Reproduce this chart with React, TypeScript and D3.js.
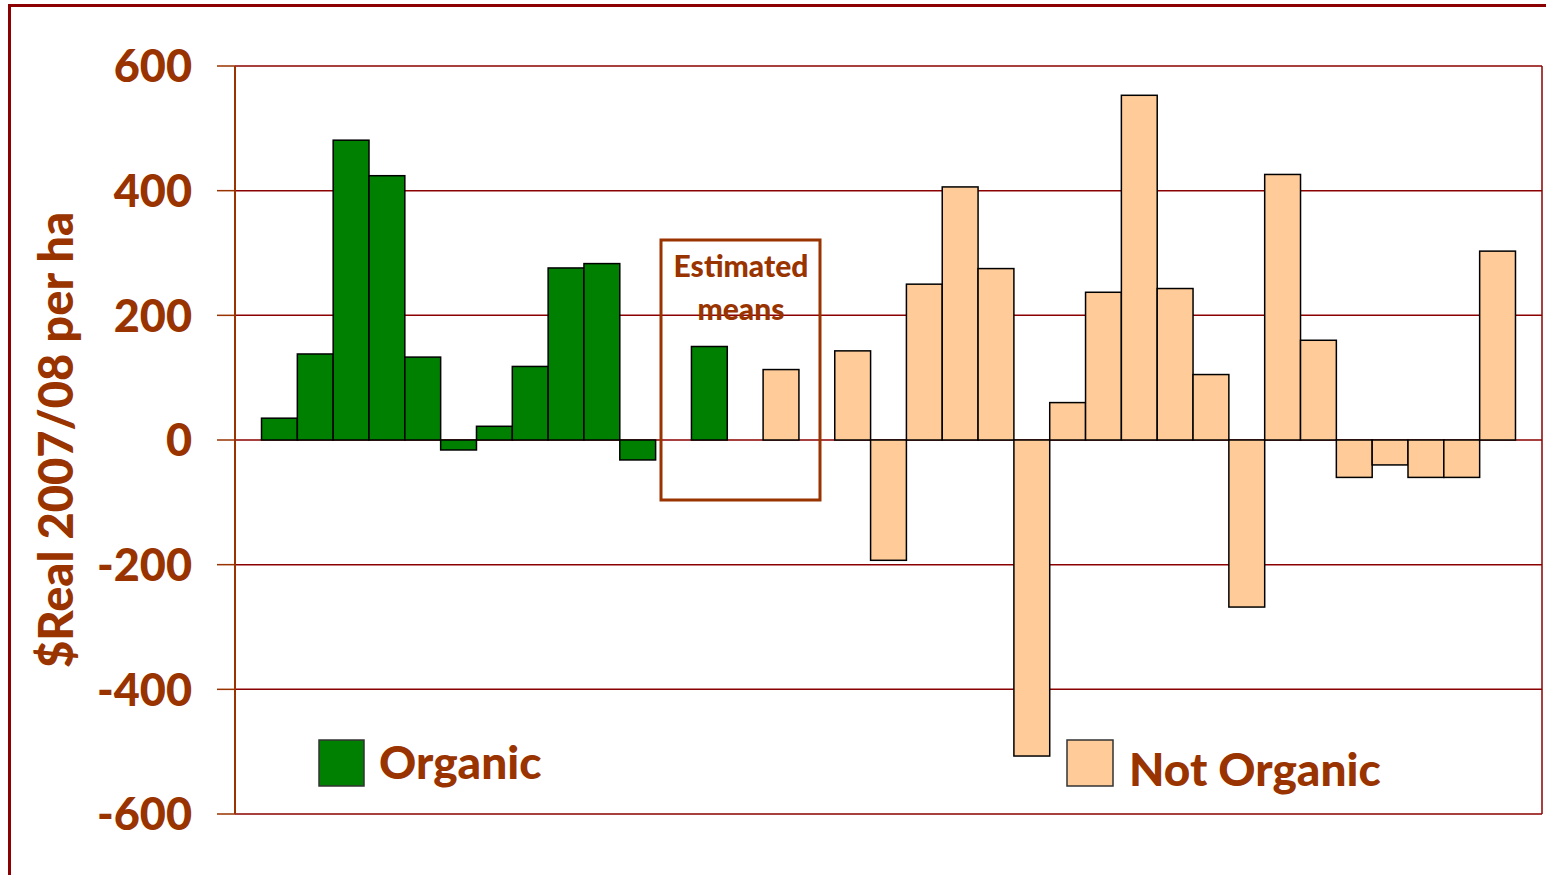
import React from "react";
import * as d3 from "d3";

// Per-hectare returns, real 2007/08 dollars
const organicValues = [35, 138, 481, 424, 133, -16, 22, 118, 276, 283, -32];
const organicMean = 150;
const notOrganicMean = 113;
const notOrganicValues = [
  143, -193, 250, 406, 275, -507, 60, 237, 553, 243, 105, -268, 426, 160, -60,
  -40, -60, -60, 303,
];
const yTicks = [-600, -400, -200, 0, 200, 400, 600];
const yTitle = "$Real 2007/08 per ha";
const meansLabel = ["Estimated", "means"];
const legendLabels = ["Organic", "Not Organic"];

type Bar = { key: string; value: number | null; group: "organic" | "not" | "none" };

const bars: Bar[] = [
  ...organicValues.map((v, i) => ({ key: `o${i}`, value: v, group: "organic" as const })),
  { key: "gap1", value: null, group: "none" },
  { key: "oMean", value: organicMean, group: "organic" },
  { key: "gap2", value: null, group: "none" },
  { key: "nMean", value: notOrganicMean, group: "not" },
  { key: "gap3", value: null, group: "none" },
  ...notOrganicValues.map((v, i) => ({ key: `n${i}`, value: v, group: "not" as const })),
];

const FONT = "Lato, 'Open Sans', sans-serif";
const BROWN = "#993300";
const DARKRED = "#8B0000";
const GREEN = "#008000";
const PEACH = "#FFCC99";

export default function App() {
  const W = 1546;
  const H = 875;
  const left = 235;
  const right = 1542;
  const top = 66;
  const bottom = 814;

  const y = d3.scaleLinear().domain([-600, 600]).range([bottom, top]);
  const x = d3
    .scaleBand<string>()
    .domain(bars.map((b) => b.key))
    .range([left, right])
    .paddingInner(0)
    .paddingOuter(0.74);

  const bw = x.bandwidth();

  return (
    <svg
      width={W}
      height={H}
      style={{ position: "absolute", left: 0, top: 0, display: "block" }}
      fontFamily={FONT}
    >
      <rect x={0} y={0} width={W} height={H} fill="#fff" />
      {/* outer frame */}
      <path d={`M9.5,${H + 5} V5.5 H${W + 5}`} fill="none" stroke={DARKRED} strokeWidth={3} />

      {/* gridlines */}
      {yTicks.map((t) => (
        <line
          key={`g${t}`}
          x1={left}
          x2={right}
          y1={y(t)}
          y2={y(t)}
          stroke={DARKRED}
          strokeWidth={1.5}
        />
      ))}
      <line x1={right} x2={right} y1={top} y2={bottom} stroke={DARKRED} strokeWidth={1.5} />

      {/* bars */}
      {bars.map((b) =>
        b.value === null ? null : (
          <rect
            key={b.key}
            x={x(b.key)!}
            y={y(Math.max(0, b.value))}
            width={bw}
            height={Math.abs(y(b.value) - y(0))}
            fill={b.group === "organic" ? GREEN : PEACH}
            stroke="#000"
            strokeWidth={1.5}
          />
        )
      )}

      {/* y axis */}
      <line x1={left} x2={left} y1={top} y2={bottom} stroke={BROWN} strokeWidth={2} />
      {yTicks.map((t) => (
        <g key={`t${t}`}>
          <line x1={217} x2={left} y1={y(t)} y2={y(t)} stroke={BROWN} strokeWidth={1.5} />
          <text
            x={192}
            y={y(t)}
            dy="0.36em"
            textAnchor="end"
            fontSize={45}
            fontWeight={900}
            fill={BROWN}
          >
            {t}
          </text>
        </g>
      ))}
      <text
        transform={`translate(73,${(top + bottom) / 2}) rotate(-90)`}
        textAnchor="middle"
        fontSize={47}
        fontWeight={900}
        fill={BROWN}
        textLength={456}
        lengthAdjust="spacingAndGlyphs"
      >
        {yTitle}
      </text>

      {/* estimated means box */}
      <rect x={661} y={240} width={159} height={260} fill="none" stroke={BROWN} strokeWidth={3} />
      {meansLabel.map((s, i) => (
        <text
          key={s}
          x={741}
          y={277 + i * 43}
          textAnchor="middle"
          fontSize={30}
          fontWeight={900}
          fill={BROWN}
        >
          {s}
        </text>
      ))}

      {/* legend */}
      <rect x={319} y={740} width={45} height={46} fill={GREEN} stroke="#333" strokeWidth={1.5} />
      <text x={379} y={779} fontSize={46} fontWeight={900} fill={BROWN}>
        {legendLabels[0]}
      </text>
      <rect x={1067} y={740} width={46} height={46} fill={PEACH} stroke="#333" strokeWidth={1.5} />
      <text x={1129} y={786} fontSize={46} fontWeight={900} fill={BROWN}>
        {legendLabels[1]}
      </text>
    </svg>
  );
}
